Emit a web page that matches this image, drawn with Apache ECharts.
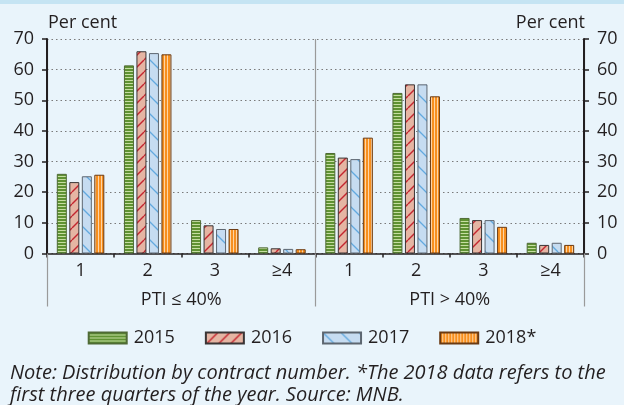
<!DOCTYPE html>
<html>
<head>
<meta charset="utf-8">
<script src="https://cdn.jsdelivr.net/npm/echarts@6/dist/echarts.min.js"></script>
<style>
html,body{margin:0;padding:0;background:#e9f4fb;}
#chart{width:624px;height:405px;}
</style>
</head>
<body>
<div id="chart"></div>
<script>
// ---- data ----
const categories = ['1', '2', '3', '≥4', '1', '2', '3', '≥4'];
const groups = ['PTI ≤ 40%', 'PTI > 40%'];
const seriesNames = ['2015', '2016', '2017', '2018*'];
const v2015 = [26.0, 61.4, 10.9, 2.0, 32.8, 52.4, 11.6, 3.5];
const v2016 = [23.3, 66.0, 9.2, 1.7, 31.3, 55.2, 10.9, 2.8];
const v2017 = [25.2, 65.4, 8.0, 1.5, 30.8, 55.2, 10.9, 3.5];
const v2018 = [25.7, 65.0, 8.0, 1.4, 37.8, 51.3, 8.7, 2.8];
const yTicks = [0, 10, 20, 30, 40, 50, 60, 70];
const unitLabel = 'Per cent';
const noteLine1 = 'Note: Distribution by contract number. *The 2018 data refers to the';
const noteLine2 = 'first three quarters of the year. Source: MNB.';

// ---- patterns ----
function makeCanvas(w, h, draw) {
  const c = document.createElement('canvas');
  c.width = w; c.height = h;
  draw(c.getContext('2d'), w, h);
  return c;
}
const pat2015 = makeCanvas(4, 3, (ctx, w, h) => {
  ctx.fillStyle = '#5f9232'; ctx.fillRect(0, 0, w, h);
  ctx.fillStyle = '#c6dea2'; ctx.fillRect(0, 2, w, 1);
});
const pat2018 = makeCanvas(3, 4, (ctx, w, h) => {
  ctx.fillStyle = '#f78f1e'; ctx.fillRect(0, 0, w, h);
  ctx.fillStyle = '#fdd3a4'; ctx.fillRect(2, 0, 1, h);
});
const pat2016 = makeCanvas(12, 12, (ctx, w, h) => {
  ctx.fillStyle = '#e5b5a3'; ctx.fillRect(0, 0, w, h);
  ctx.strokeStyle = '#c42630'; ctx.lineWidth = 1.4;
  for (let k = -1; k <= 1; k++) {
    ctx.beginPath(); ctx.moveTo(k * w, h); ctx.lineTo(k * w + w, 0); ctx.stroke();
  }
});
const pat2017 = makeCanvas(18, 18, (ctx, w, h) => {
  ctx.fillStyle = '#c6dcf1'; ctx.fillRect(0, 0, w, h);
  ctx.strokeStyle = '#62a9df'; ctx.lineWidth = 1.3;
  for (let k = -1; k <= 1; k++) {
    ctx.beginPath(); ctx.moveTo(k * w, 0); ctx.lineTo(k * w + w, h); ctx.stroke();
  }
});

const FONT = '"Open Sans", sans-serif';
const TXT = '#231f20';

const styles = [
  { color: { image: pat2015, repeat: 'repeat' }, borderColor: '#4f6a35' },
  { color: { image: pat2016, repeat: 'repeat' }, borderColor: '#3a3535' },
  { color: { image: pat2017, repeat: 'repeat' }, borderColor: '#5d6670' },
  { color: { image: pat2018, repeat: 'repeat' }, borderColor: '#6b3a12' }
];
const values = [v2015, v2016, v2017, v2018];

const chart = echarts.init(document.getElementById('chart'), null, { renderer: 'canvas' });

const yAxisCommon = {
  type: 'value', min: 0, max: 70, interval: 10,
  axisLine: { show: true, lineStyle: { color: '#231f20', width: 2 } },
  axisTick: { show: true, length: 5, lineStyle: { color: '#231f20', width: 1.5 } },
  axisLabel: { fontSize: 18, color: TXT, fontFamily: FONT, margin: 13,
    formatter: v => (yTicks.includes(v) ? String(v) : '') }
};

chart.setOption({
  backgroundColor: '#e9f4fb',
  animation: false,
  grid: { left: 47, right: 40, top: 39, bottom: 151.5, containLabel: false },
  xAxis: [
    {
      type: 'category', data: categories, position: 'bottom',
      axisLine: { show: true, lineStyle: { color: '#231f20', width: 1.5 } },
      axisTick: { show: true, length: 4, lineStyle: { color: '#231f20', width: 1.5 } },
      axisLabel: { fontSize: 18, color: TXT, fontFamily: FONT, margin: 8 },
      splitLine: { show: false }
    },
    {
      type: 'category', data: groups, position: 'bottom',
      axisLine: { show: false },
      axisTick: { show: true, length: 53, lineStyle: { color: '#9a9a9a', width: 1.2 } },
      axisLabel: { fontSize: 18, color: TXT, fontFamily: FONT, margin: 37 },
      splitLine: { show: true, lineStyle: { color: '#9a9a9a', width: 1.2 } }
    }
  ],
  yAxis: [
    Object.assign({}, yAxisCommon, {
      position: 'left',
      splitLine: { show: true, lineStyle: { color: '#7a7a7a', width: 1, type: [1.5, 3] } }
    }),
    Object.assign({}, yAxisCommon, {
      position: 'right',
      splitLine: { show: false }
    })
  ],
  legend: {
    data: seriesNames,
    top: 324, left: 'center',
    itemWidth: 38, itemHeight: 11, itemGap: 30,
    textStyle: { fontSize: 18, color: TXT, fontFamily: FONT, padding: [0, 0, 0, 2] },
    icon: 'rect'
  },
  series: seriesNames.map((name, i) => ({
    name: name, type: 'bar', xAxisIndex: 0, yAxisIndex: 0,
    data: values[i], barWidth: 10, barGap: '25%',
    itemStyle: Object.assign({ borderWidth: 1 }, styles[i]),
    z: 3
  })),
  graphic: [
    { type: 'rect', left: 0, top: 0, shape: { width: 624, height: 4 }, style: { fill: '#c5e4f3' }, silent: true },
    { type: 'text', style: { x: 48, y: 23, verticalAlign: 'middle', align: 'left', text: unitLabel, fontSize: 18, fill: TXT, fontFamily: FONT } },
    { type: 'text', style: { x: 585, y: 23, verticalAlign: 'middle', align: 'right', text: unitLabel, fontSize: 18, fill: TXT, fontFamily: FONT } },
    { type: 'text', style: { x: 10, y: 373, verticalAlign: 'middle', align: 'left', text: noteLine1, fontSize: 20, fill: TXT, fontFamily: FONT, fontStyle: 'italic' } },
    { type: 'text', style: { x: 10, y: 395, verticalAlign: 'middle', align: 'left', text: noteLine2, fontSize: 20, fill: TXT, fontFamily: FONT, fontStyle: 'italic' } }
  ]
});
</script>
</body>
</html>
